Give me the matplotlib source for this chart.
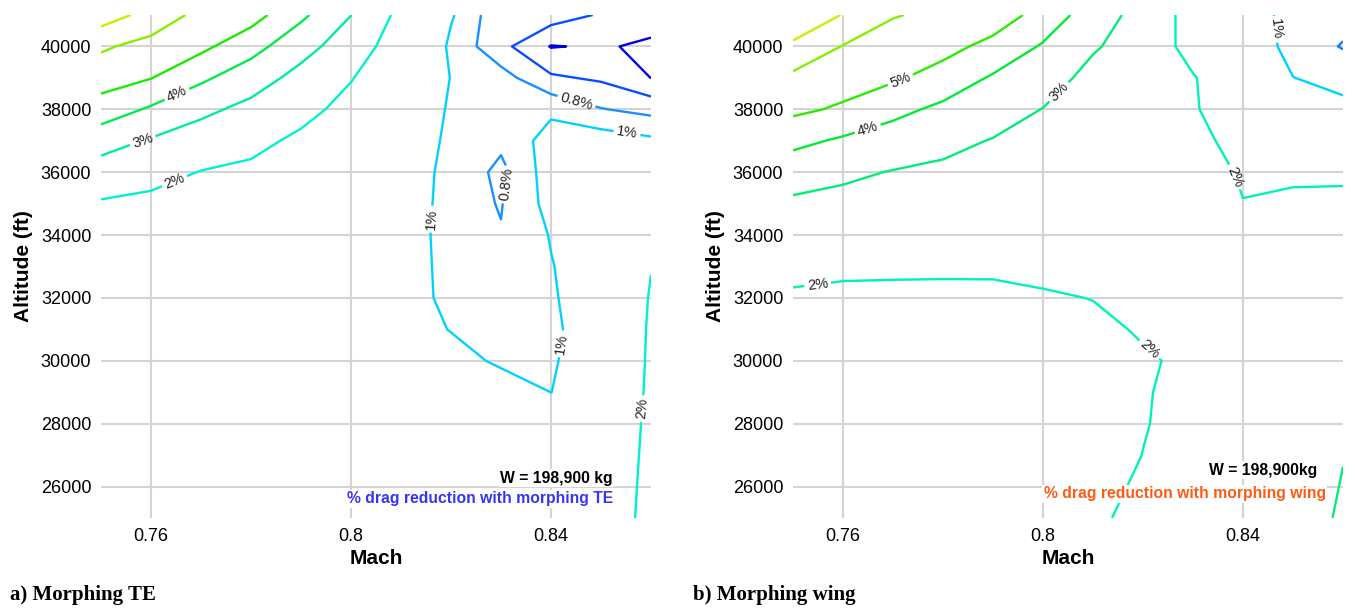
import numpy as np
import matplotlib
matplotlib.use("Agg")
import matplotlib.pyplot as plt

# Mach / altitude grid of the drag reduction tables (%)
mach = [0.75, 0.76, 0.77, 0.78, 0.79, 0.80, 0.81, 0.82, 0.83, 0.84, 0.85, 0.86]
altitude = [41000, 40000, 39000, 38000, 37000, 36000, 35000, 34000, 33000,
            32000, 31000, 30000, 29000, 28000, 27000, 26000, 25000]

# a) morphing trailing edge, rows follow `altitude`
drag_te = [
    [7.50, 6.66, 5.70, 5.40, 4.20, 3.01, 1.75, 1.026, 0.649, 0.70, 0.58, 0.50],
    [6.14, 5.66, 5.23, 4.37, 3.33, 2.52, 1.48, 0.947, 0.659, 0.39, 0.423, 0.361],
    [5.43, 5.03, 4.18, 3.43, 2.71, 2.04, 1.40, 0.99, 0.88, 0.63, 0.57, 0.398],
    [4.57, 3.87, 3.21, 2.75, 2.24, 1.75, 1.35, 0.952, 0.92, 0.96, 0.81, 0.739],
    [3.38, 2.91, 2.55, 2.21, 1.85, 1.60, 1.30, 0.915, 0.85, 1.084, 1.11, 1.04],
    [2.58, 2.29, 1.97, 1.85, 1.70, 1.50, 1.065, 0.968, 0.741, 1.11, 1.15, 1.10],
    [1.91, 1.80, 1.80, 1.72, 1.60, 1.43, 1.213, 0.875, 0.79, 1.07, 1.15, 1.15],
    [1.75, 1.70, 1.68, 1.62, 1.53, 1.38, 1.173, 0.88, 0.81, 1.012, 1.14, 1.40],
    [1.65, 1.60, 1.58, 1.54, 1.47, 1.34, 1.163, 0.90, 0.85, 0.99, 1.133, 1.98],
    [1.58, 1.55, 1.52, 1.48, 1.43, 1.31, 1.149, 0.92, 0.88, 0.98, 1.113, 2.057],
    [1.52, 1.50, 1.47, 1.44, 1.39, 1.28, 1.12, 0.99, 0.90, 0.97, 1.095, 2.10],
    [1.48, 1.46, 1.43, 1.40, 1.36, 1.26, 1.20, 1.093, 0.96, 0.985, 1.085, 2.125],
    [1.45, 1.43, 1.40, 1.37, 1.34, 1.24, 1.18, 1.10, 1.13, 0.999, 1.07, 2.164],
    [1.42, 1.41, 1.38, 1.35, 1.32, 1.22, 1.17, 1.10, 1.08, 1.08, 1.08, 2.23],
    [1.40, 1.39, 1.36, 1.33, 1.30, 1.21, 1.16, 1.10, 1.09, 1.09, 1.09, 2.287],
    [1.38, 1.37, 1.34, 1.31, 1.29, 1.20, 1.15, 1.10, 1.10, 1.10, 1.10, 2.35],
    [1.36, 1.35, 1.32, 1.30, 1.28, 1.19, 1.14, 1.10, 1.10, 1.10, 1.10, 2.42],
]

# b) morphing wing
drag_wing = [
    [7.90, 6.95, 6.05, 5.82, 5.55, 4.63, 3.48, 2.65, 1.65, 1.30, 0.816, 0.85],
    [6.79, 5.96, 5.61, 5.32, 4.71, 3.90, 3.10, 2.54, 1.71, 1.25, 0.888, 0.79],
    [5.79, 5.45, 5.14, 4.60, 3.89, 3.43, 2.71, 2.40, 2.05, 1.425, 1.005, 0.90],
    [5.21, 4.86, 4.27, 3.79, 3.39, 2.98, 2.70, 2.40, 2.10, 1.33, 1.20, 1.08],
    [4.26, 3.86, 3.53, 3.22, 2.96, 2.81, 2.60, 2.40, 2.20, 1.756, 1.50, 1.40],
    [3.41, 3.16, 2.96, 2.85, 2.74, 2.64, 2.50, 2.40, 2.30, 1.93, 1.80, 1.80],
    [2.85, 2.76, 2.67, 2.60, 2.52, 2.47, 2.40, 2.30, 2.20, 2.015, 2.217, 2.255],
    [2.53, 2.45, 2.39, 2.35, 2.31, 2.29, 2.30, 2.30, 2.30, 2.30, 2.35, 2.40],
    [2.20, 2.13, 2.11, 2.10, 2.09, 2.12, 2.20, 2.25, 2.30, 2.35, 2.40, 2.45],
    [1.90, 1.85, 1.85, 1.85, 1.87, 1.95, 2.01, 2.15, 2.30, 2.35, 2.40, 2.50],
    [1.75, 1.72, 1.72, 1.72, 1.74, 1.80, 1.90, 2.043, 2.20, 2.30, 2.40, 2.50],
    [1.65, 1.63, 1.63, 1.63, 1.65, 1.70, 1.80, 1.95, 2.085, 2.20, 2.35, 2.50],
    [1.58, 1.56, 1.56, 1.56, 1.58, 1.62, 1.80, 1.97, 2.12, 2.25, 2.40, 2.55],
    [1.52, 1.50, 1.50, 1.50, 1.52, 1.56, 1.80, 1.98, 2.123, 2.30, 2.45, 2.65],
    [1.48, 1.46, 1.46, 1.46, 1.48, 1.52, 1.80, 2.005, 2.15, 2.35, 2.55, 2.98],
    [1.45, 1.43, 1.43, 1.43, 1.45, 1.48, 1.80, 2.094, 2.25, 2.45, 2.60, 3.035],
    [1.42, 1.40, 1.40, 1.40, 1.42, 1.45, 1.85, 2.245, 2.40, 2.55, 2.70, 3.08],
]

levels_te = [0.4, 0.6, 0.8, 1, 2, 3, 4, 5, 6, 7]
levels_wing = [0.8, 1, 2, 3, 4, 5, 6, 7]
x_ticks = [0.76, 0.8, 0.84]
y_ticks = [26000, 28000, 30000, 32000, 34000, 36000, 38000, 40000]

colors_te = ['#0000dd', '#0a4cff', '#1a90ff', '#00d2ff', '#00f0d2',
             '#00ee96', '#00ec48', '#1aec00', '#88ee00', '#ccee00']
colors_wing = ['#1a78ff', '#00d2ff', '#00f2b8', '#00ee78', '#00ec34',
               '#2aec00', '#88ee00', '#ccee00']

# where the inline labels sit (Mach, altitude)
labels_te = [(0.7652, 38476), (0.7582, 37079), (0.7646, 35746), (0.8452, 38317),
             (0.8552, 37238), (0.8311, 35619), (0.8159, 34508), (0.842, 30540),
             (0.8583, 28476)]
labels_wing = [(0.7716, 38889), (0.7648, 37460), (0.8033, 38540), (0.8462, 40540),
               (0.8387, 35873), (0.7549, 32476), (0.8214, 30381)]

plt.rcParams['font.family'] = ['Liberation Sans', 'DejaVu Sans']

fig = plt.figure(figsize=(13.55, 6.08), dpi=100)
ax1 = fig.add_axes([101 / 1355, 90 / 608, 550 / 1355, 503 / 608])
ax2 = fig.add_axes([793 / 1355, 90 / 608, 550 / 1355, 503 / 608])


def draw_panel(ax, table, levels, colors, label_pos, weight_txt, note, note_color):
    M, A = np.meshgrid(mach, altitude[::-1])
    Z = np.flipud(np.array(table))
    cs = ax.contour(M, A, Z, levels=levels, colors=colors, linewidths=1.7, zorder=3)
    ax.clabel(cs, inline=True, inline_spacing=3, fontsize=10.5, colors='#222222',
              fmt=lambda v: '%g%%' % v, manual=label_pos)

    ax.set_xlim(0.75, 0.86)
    ax.set_ylim(25000, 41000)
    ax.set_xticks(x_ticks)
    ax.set_xticklabels(['%g' % t for t in x_ticks])
    ax.set_yticks(y_ticks)
    ax.grid(True, color='#d4d4d4', linewidth=1.5, zorder=0)
    ax.set_axisbelow(True)
    for s in ax.spines.values():
        s.set_visible(False)
    ax.tick_params(length=0, labelsize=13, pad=7)
    ax.set_xlabel('Mach', fontsize=15, fontweight='bold')
    ax.set_ylabel('Altitude (ft)', fontsize=15, fontweight='bold')
    ax.xaxis.set_label_coords(0.5, -0.062)
    ax.yaxis.set_label_coords(-0.124, 0.5)

    ax.text(weight_txt[1], weight_txt[2], weight_txt[0], transform=ax.transAxes,
            ha='right', va='center', fontsize=11.3, fontweight='bold', color='black',
            bbox=dict(facecolor='white', edgecolor='none', pad=1.0), zorder=5)
    ax.text(note[1], note[2], note[0], transform=ax.transAxes,
            ha='right', va='center', fontsize=11.3, fontweight='bold', color=note_color,
            bbox=dict(facecolor='white', edgecolor='none', pad=1.0), zorder=5)


draw_panel(ax1, drag_te, levels_te, colors_te, labels_te,
           ('W = 198,900 kg', 0.931, 0.079),
           ('% drag reduction with morphing TE', 0.931, 0.038), '#3535f5')
draw_panel(ax2, drag_wing, levels_wing, colors_wing, labels_wing,
           ('W = 198,900kg', 0.953, 0.095),
           ('% drag reduction with morphing wing', 0.969, 0.048), '#ff5a14')

fig.text(10 / 1355, 13 / 608, 'a) Morphing TE', family='Liberation Serif',
         fontweight='bold', fontsize=15, va='center', ha='left')
fig.text(693 / 1355, 13 / 608, 'b) Morphing wing', family='Liberation Serif',
         fontweight='bold', fontsize=15, va='center', ha='left')

fig.savefig('out.png', dpi=100)
